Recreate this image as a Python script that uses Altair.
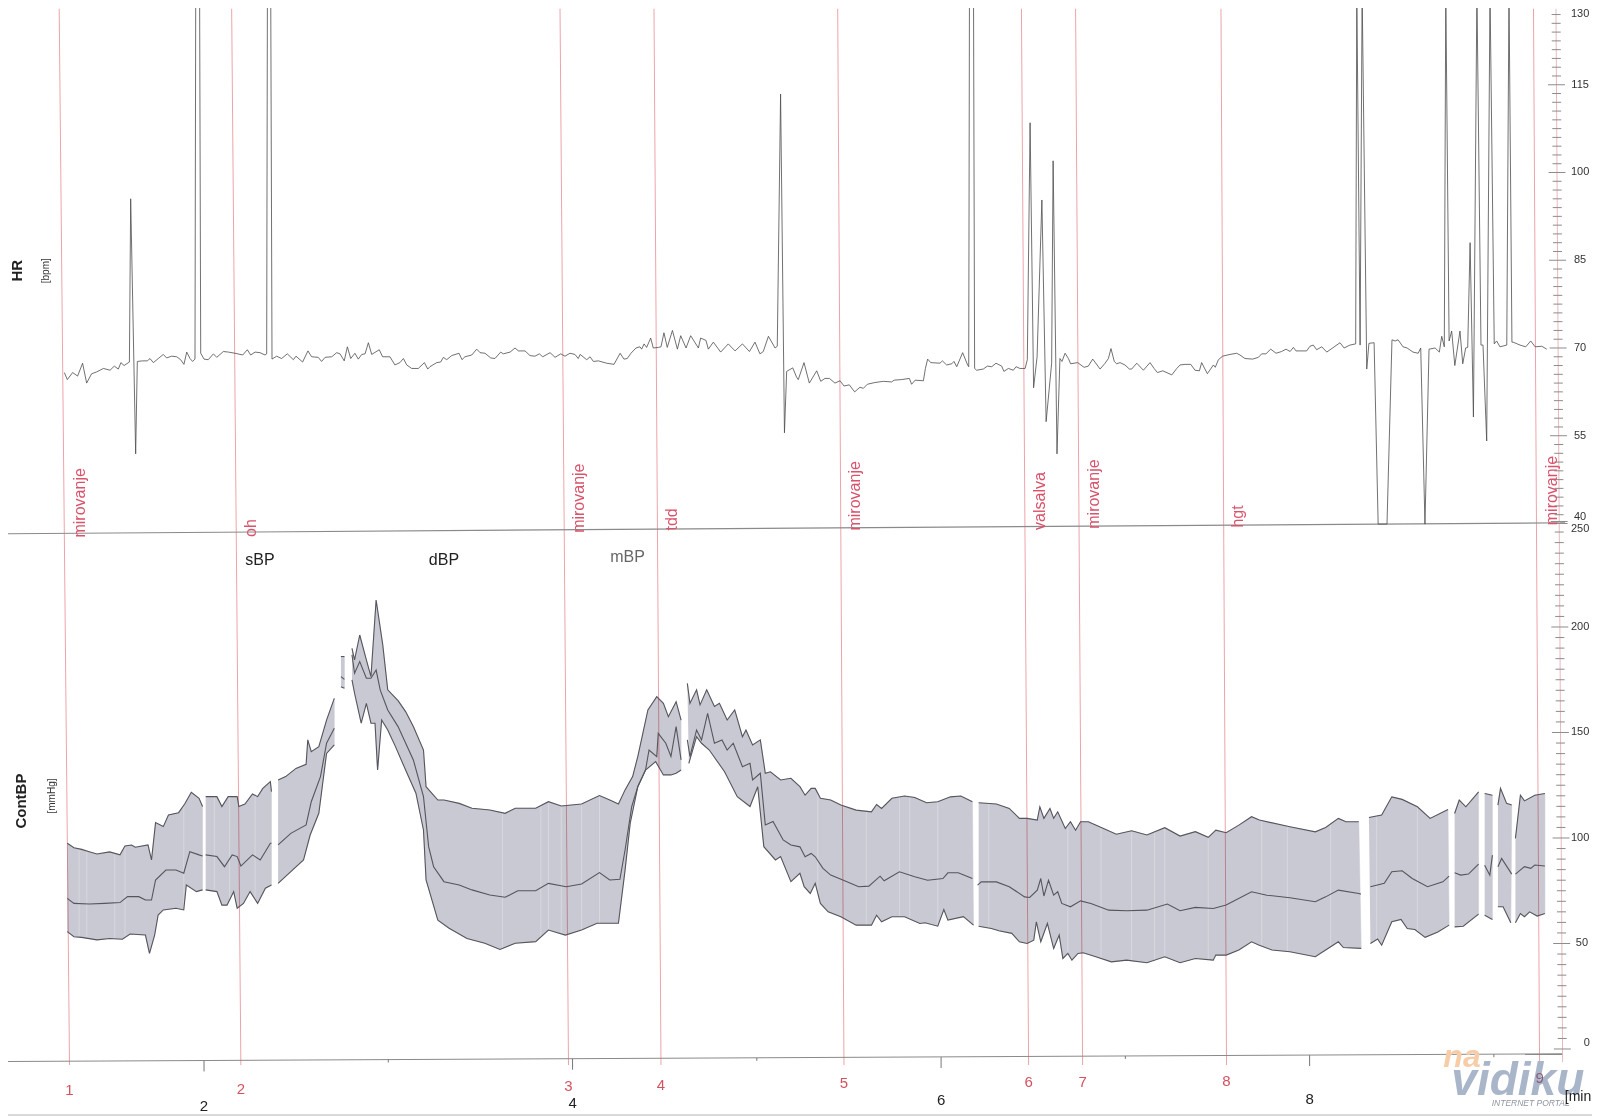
import altair as alt
import numpy as np
import pandas as pd

# ---- HR [bpm] ----
HR_T = [1.242,1.258,1.287,1.314,1.341,1.363,1.390,1.417,1.454,1.490,1.513,1.535,1.549,1.566,1.595,1.602,1.629,1.638,
1.667,1.692,1.707,1.725,1.752,1.779,1.797,1.824,1.852,1.873,1.891,1.906,1.924,1.938,1.951,1.955,1.976,1.982,
2.000,2.023,2.051,2.069,2.105,2.132,2.168,2.210,2.235,2.253,2.277,2.304,2.331,2.340,2.344,2.362,2.369,
2.394,2.421,2.452,2.485,2.499,2.535,2.564,2.584,2.620,2.638,2.657,2.693,2.720,2.738,2.761,2.778,2.796,2.819,2.837,2.856,2.874,2.892,2.910,2.951,2.969,3.009,3.036,3.063,3.082,3.100,3.127,3.163,3.196,3.214,
3.226,3.263,3.284,3.299,3.317,3.344,3.384,3.400,3.416,3.453,3.480,3.498,3.525,3.556,3.579,3.610,3.624,3.661,3.688,3.706,3.742,3.769,3.796,3.820,3.838,3.878,3.905,3.936,3.959,3.986,4.013,4.031,4.041,4.077,4.095,4.113,4.140,4.185,4.225,4.258,4.279,4.297,4.317,4.344,4.366,4.375,4.388,4.402,4.424,4.438,4.466,4.480,4.496,4.514,4.542,4.569,4.587,4.616,4.641,4.683,4.695,4.724,4.737,4.764,4.804,4.845,4.882,4.922,4.960,4.990,5.017,5.035,5.063,5.099,5.111,5.129,5.150,
5.162,5.195,5.216,5.225,5.256,5.285,5.325,5.347,5.370,5.394,5.424,5.452,5.473,5.502,5.531,5.560,5.578,5.600,5.641,5.687,5.732,5.745,5.786,5.828,5.840,5.859,5.904,5.915,5.927,5.944,5.994,6.007,6.030,6.058,6.070,6.085,6.117,6.144,6.150,6.154,6.176,6.182,6.193,6.229,6.251,6.275,6.298,6.329,6.341,6.365,6.392,6.407,6.428,6.456,6.468,6.483,6.502,6.521,6.547,6.570,6.600,6.608,6.629,
6.645,6.656,6.673,6.691,6.703,6.741,6.776,6.799,6.823,6.863,6.890,6.908,6.922,6.940,6.953,6.971,6.998,7.022,7.034,7.062,7.098,7.134,
7.156,7.174,7.203,7.252,7.279,7.297,7.324,7.355,7.378,7.402,7.414,7.445,7.478,7.488,7.505,7.528,7.568,7.604,7.622,7.649,7.691,7.722,7.740,7.763,7.789,7.818,7.848,7.872,7.894,7.912,7.926,7.984,8.002,8.020,8.038,8.066,8.093,8.165,8.187,8.219,8.250,8.256,8.274,8.285,8.310,8.322,8.350,8.372,8.420,8.447,
8.464,8.480,8.507,8.529,8.561,8.589,8.603,8.626,8.648,8.681,8.704,8.717,8.731,8.739,8.757,8.771,8.788,8.816,8.831,8.847,8.858,8.871,8.889,8.908,8.930,8.941,8.961,8.979,9.002,9.015,9.033,9.070,9.082,9.098,9.104,9.142,9.173,9.200,9.224,9.260,9.287]
HR_V = [65.8,64.6,65.8,65.2,67.4,64.0,65.6,65.9,66.5,66.2,66.9,66.4,67.5,67.0,67.6,95.5,51.9,67.7,
67.8,67.8,68.2,67.5,68.2,68.9,68.3,68.6,68.5,68.0,67.2,69.3,68.2,67.7,68.1,131,131,69.1,
68.1,68.0,69.0,68.4,69.4,69.3,69.1,68.8,69.7,68.8,69.3,69.2,68.8,69.0,131,131,68.1,
68.6,68.2,69.0,68.0,68.6,67.6,69.5,68.5,68.4,67.7,68.4,68.5,69.2,69.0,67.8,70.2,68.2,69.1,68.1,68.9,69.0,70.9,68.9,69.7,68.5,68.5,67.1,67.5,68.2,67.1,66.5,66.5,67.5,66.4,
66.8,67.5,67.6,68.4,68.0,68.7,69.1,68.0,68.5,68.8,69.8,69.2,69.1,68.3,68.2,69.3,69.0,69.3,70.0,69.5,69.5,68.7,68.6,69.0,68.5,69.2,68.4,69.0,68.6,69.1,68.9,68.2,68.9,68.0,68.5,67.7,67.8,67.4,67.2,69.1,68.1,68.2,69.1,70.0,70.2,69.8,70.7,70.1,71.7,70.0,70.1,70.2,72.6,70.1,73.0,69.8,72.1,70.0,72.1,70.0,71.7,71.3,69.8,71.0,69.3,70.7,69.5,70.7,69.4,71.0,69.0,69.4,72.0,70.0,70.3,113.4,55.5,
66.0,66.6,65.0,64.6,67.5,64.0,66.1,64.3,64.8,64.8,64.0,64.4,63.5,63.7,62.5,63.3,63.1,63.8,64.1,64.3,64.2,64.5,64.6,64.8,63.8,64.5,64.4,66.5,68.1,67.5,67.4,67.8,67.1,67.3,67.7,66.8,69.2,67.1,66.8,131,131,66.5,66.2,66.4,66.9,66.8,67.4,66.9,66.0,66.5,66.2,66.8,66.5,66.5,68.0,108.5,63.2,68.5,95.3,57.4,67.4,102.0,51.9,
68.2,67.7,69.1,68.2,67.3,67.5,66.7,66.9,68.1,66.4,67.4,68.2,69.9,67.7,67.3,67.5,67.1,66.4,66.4,67.4,66.2,67.5,
66.5,65.8,66.1,65.4,66.5,67.1,67.2,67.2,66.2,66.1,67.5,65.6,67.1,66.7,68.0,68.6,68.9,69.1,68.8,68.2,68.1,68.4,69.0,69.0,69.8,69.1,69.4,69.8,69.4,70.1,69.5,69.5,70.3,70.5,69.7,70.2,69.3,70.9,70.0,70.5,70.7,131,70.5,131,66.4,70.8,70.9,39.9,39.9,71.4,
71.2,71.4,70.2,70.0,69.3,69.1,70.0,39.9,69.8,70.0,69.3,72.0,70.2,131,71.2,72.9,67.0,72.9,67.3,70.0,70.1,88.0,58.2,131,70.5,70.5,54.1,131,70.7,71.2,70.2,70.5,131,71.0,71.0,70.5,70.2,71.2,70.2,70.3,69.8]

# ---- ContBP [mmHg]: systolic, mean, diastolic traces ----
SYS_T = [1.258,1.294,1.336,1.377,1.419,1.488,1.544,1.571,1.607,1.627,1.696,1.715,1.737,1.779,1.807,1.862,1.895,1.931,1.973,1.992,2.009,2.070,2.097,2.131,2.180,2.189,2.222,2.263,2.291,2.319,2.360,2.366,2.402,2.443,2.499,2.554,2.563,2.582,2.623,2.665,2.707,2.743,2.762,2.803,2.817,2.845,2.881,2.906,2.934,2.970,2.997,3.053,3.094,3.136,3.191,3.205,3.269,3.302,3.385,3.454,3.551,3.634,3.689,3.800,3.869,3.939,4.049,4.146,4.202,4.249,4.285,4.326,4.354,4.409,4.457,4.493,4.520,4.562,4.589,4.623,4.637,4.673,4.692,4.728,4.770,4.797,4.839,4.880,4.922,4.941,4.977,5.019,5.046,5.074,5.129,5.185,5.234,
5.262,5.295,5.317,5.345,5.401,5.456,5.539,5.622,5.650,5.677,5.733,5.802,5.857,5.921,5.982,6.051,6.107,6.170,6.204,6.300,6.370,6.425,6.467,6.522,6.536,6.558,6.591,6.611,6.633,6.674,6.702,6.730,6.757,6.799,6.854,6.951,7.034,7.117,7.214,7.297,7.380,7.450,7.491,7.547,7.616,7.685,7.727,7.893,8.031,8.087,8.156,8.197,8.267,8.322,8.391,8.446,8.502,8.585,8.654,8.751,8.787,8.812,8.848,8.917,8.950,8.992,9.022,9.036,9.069,9.097,9.117,9.144,9.166,9.222,9.277]
SYS_V = [97.5,95.4,94.6,93.5,92.4,93.4,92.0,96.2,96.7,95.6,96.7,89.6,107.3,105.4,110.9,112.0,116.1,121.7,118.8,114.9,119.6,119.6,114.9,119.6,119.6,114.9,116.1,120.9,119.6,123.5,126.7,122.0,127.5,129.1,133.0,134.9,146.5,140.9,143.3,155.9,166.2,186.0,186.0,189.9,184.4,196.2,184.4,176.5,212.8,191.5,170.2,165.1,159.9,152.8,141.7,124.3,118.0,118.0,116.4,114.1,113.3,111.7,114.1,114.1,117.2,115.2,116.1,120.1,118.0,116.1,122.8,129.1,138.6,160.7,167.0,163.8,157.5,164.6,155.9,173.3,163.8,170.2,163.1,170.2,162.3,163.8,155.9,160.7,148.0,151.2,144.1,146.5,130.7,131.4,127.5,128.3,124.3,
120.3,123.5,123.5,118.8,118.0,115.6,113.2,112.4,115.9,114.0,118.8,119.9,119.2,116.7,117.2,119.5,119.9,117.2,116.7,116.1,114.0,109.3,109.3,108.5,114.8,109.3,114.0,109.3,112.4,104.5,107.7,103.7,107.7,107.7,105.6,101.8,103.4,101.4,104.9,100.9,103.0,100.3,103.7,102.5,106.1,110.1,108.5,105.3,102.9,105.0,109.3,107.7,107.7,109.7,110.9,119.5,118.3,114.8,109.3,113.5,111.6,118.0,114.8,121.9,121.1,120.3,115.6,123.5,116.4,115.6,99.8,120.3,117.6,120.3,121.1]

MEAN_T = [1.258,1.294,1.377,1.460,1.544,1.585,1.646,1.682,1.715,1.737,1.793,1.848,1.890,1.923,1.973,1.992,2.009,2.070,2.111,2.153,2.180,2.200,2.263,2.305,2.360,2.366,2.402,2.471,2.554,2.582,2.632,2.665,2.707,2.743,2.762,2.803,2.817,2.845,2.881,2.906,2.934,2.956,2.997,3.053,3.136,3.191,3.219,3.246,3.302,3.385,3.454,3.551,3.634,3.703,3.800,3.869,3.966,4.049,4.146,4.202,4.257,4.285,4.321,4.354,4.396,4.415,4.457,4.465,4.506,4.534,4.562,4.589,4.623,4.637,4.673,4.700,4.733,4.770,4.811,4.839,4.872,4.922,4.963,4.977,5.019,5.046,5.088,5.143,5.185,5.234,
5.262,5.295,5.317,5.359,5.401,5.470,5.553,5.608,5.669,5.691,5.774,5.857,5.927,6.010,6.037,6.093,6.170,6.198,6.218,6.300,6.370,6.453,6.481,6.522,6.541,6.558,6.583,6.611,6.633,6.655,6.702,6.757,6.813,6.910,7.007,7.117,7.228,7.297,7.380,7.477,7.547,7.685,7.768,7.893,8.031,8.087,8.156,8.267,8.278,8.330,8.405,8.446,8.502,8.557,8.640,8.723,8.757,8.787,8.820,8.862,8.917,8.950,8.978,8.992,9.022,9.042,9.097,9.117,9.166,9.200,9.222,9.277]
MEAN_V = [71.4,69.0,68.7,69.0,69.4,72.2,72.2,70.6,70.6,80.1,84.8,84.8,83.3,93.5,92.0,91.5,92.0,91.2,86.4,92.0,91.2,86.7,92.0,89.6,97.5,97.5,96.7,102.2,106.2,117.2,129.1,144.9,152.0,176.5,175.2,186.8,178.1,183.6,175.7,175.7,179.6,170.2,160.7,152.8,137.0,119.6,95.9,86.4,79.3,77.7,75.4,73.0,71.9,75.0,75.0,78.5,76.9,78.2,83.6,80.1,80.4,94.3,114.9,124.3,132.2,141.7,138.6,149.6,144.9,138.6,152.8,137.0,146.5,138.6,151.2,146.5,159.1,144.9,146.5,141.7,144.9,133.8,135.4,127.5,130.7,106.2,107.8,99.1,96.7,95.8,
91.1,92.7,91.1,85.6,82.4,80.0,76.9,77.2,81.9,79.7,84.0,81.6,80.0,80.8,83.5,83.5,80.8,77.7,79.2,79.2,76.9,72.1,71.8,75.3,80.8,72.5,80.0,72.9,74.5,69.0,67.4,70.2,69.0,65.8,65.5,65.8,68.7,65.5,67.1,66.6,68.2,74.5,72.9,71.7,69.8,72.1,75.3,73.7,73.4,76.9,78.5,84.0,84.5,80.8,76.9,79.2,81.9,83.5,82.4,82.9,87.6,87.1,82.4,91.9,86.4,90.3,82.9,82.9,86.4,85.6,87.2,86.7]

DIA_T = [1.258,1.294,1.336,1.419,1.488,1.557,1.599,1.682,1.704,1.732,1.751,1.779,1.848,1.890,1.904,1.959,1.992,2.009,2.070,2.097,2.125,2.161,2.180,2.214,2.250,2.291,2.333,2.366,2.402,2.471,2.540,2.576,2.623,2.665,2.707,2.743,2.762,2.803,2.817,2.853,2.881,2.906,2.928,2.942,2.964,2.997,3.039,3.094,3.150,3.191,3.205,3.269,3.330,3.427,3.524,3.606,3.689,3.800,3.869,3.961,4.049,4.133,4.188,4.249,4.285,4.313,4.354,4.396,4.451,4.493,4.534,4.562,4.589,4.631,4.673,4.700,4.742,4.825,4.894,4.963,5.005,5.038,5.101,5.129,5.185,5.234,
5.257,5.290,5.317,5.345,5.387,5.456,5.539,5.622,5.650,5.677,5.733,5.802,5.885,5.913,5.982,6.015,6.037,6.121,6.176,6.204,6.273,6.314,6.384,6.425,6.467,6.503,6.517,6.541,6.577,6.611,6.641,6.661,6.688,6.710,6.743,6.771,6.840,6.924,7.007,7.117,7.214,7.297,7.380,7.477,7.491,7.547,7.616,7.685,7.727,7.796,7.893,8.031,8.087,8.156,8.183,8.280,8.330,8.369,8.391,8.446,8.496,8.530,8.571,8.627,8.696,8.757,8.787,8.834,8.917,8.950,8.992,9.022,9.050,9.092,9.117,9.144,9.166,9.194,9.235,9.277]
DIA_V = [55.6,53.2,52.9,51.7,52.4,52.0,54.5,54.0,45.3,54.0,63.5,65.9,66.7,65.9,77.7,74.6,75.4,75.4,74.6,68.2,68.2,74.6,66.7,69.0,74.6,69.0,76.2,77.7,78.5,84.1,89.6,101.4,111.7,140.1,144.1,171.7,171.0,174.9,168.6,154.4,163.8,154.4,154.4,132.2,155.9,151.2,143.3,132.2,121.2,103.8,80.1,61.1,57.2,52.4,50.1,47.2,50.1,50.9,56.4,54.0,56.4,59.6,59.6,59.6,84.8,107.0,124.3,132.2,136.2,129.9,129.9,130.7,132.2,135.4,148.0,144.9,141.7,131.4,119.6,114.9,124.3,95.9,89.6,91.2,79.3,83.3,
76.9,73.7,78.5,69.0,65.0,62.7,58.7,58.7,63.4,60.3,62.7,62.7,59.5,59.8,58.2,66.1,61.1,62.7,58.7,58.2,57.1,56.0,54.8,50.8,50.0,51.6,60.3,50.8,59.5,47.6,54.0,42.9,45.3,42.1,45.3,45.6,43.7,41.3,42.1,40.9,43.7,40.9,42.9,42.1,44.5,44.5,46.9,50.8,49.2,46.9,46.1,43.7,46.9,50.8,48.1,47.7,50.0,52.1,49.2,60.3,61.4,57.1,56.6,52.9,55.5,58.7,57.9,58.2,63.9,63.4,61.4,67.4,67.4,59.8,59.8,64.2,62.7,65.0,63.0,64.2]

# times (min) where beats are missing in the BP record
GAP_T = [2.000,2.384,2.725,2.782,4.606,6.187,8.301,8.770,8.937,9.007,9.107]
# paler beats inside the band
PALE_T = [1.322,1.364,1.516,1.571,1.890,2.056,2.139,2.277,3.620,3.828,3.870,3.939,4.049,4.146,
          5.331,5.594,5.774,5.830,5.982,6.259,6.688,6.868,7.034,7.159,7.214,7.450,7.740,7.879,8.114,8.364,8.585]

# ---- event markers ----
EVENT_NUM = ["1","2","3","4","5","6","7","8","9"]
EVENT_TOP = [1.214,2.150,3.932,4.442,5.439,6.436,6.730,7.519,9.215]
EVENT_BOT = [1.270,2.200,3.978,4.480,5.473,6.475,6.768,7.549,9.248]
EVENT_NUM_BP = [-19.4,-19.0,-17.5,-17.1,-16.1,-15.6,-15.6,-15.2,-13.7]
EVENT_NAME = ["mirovanje","oh","mirovanje","tdd","mirovanje","valsalva","mirovanje","hgt","mirovanje"]
EVENT_NAME_T = [1.325,2.255,4.033,4.542,5.533,6.537,6.830,7.610,9.315]
EVENT_NAME_HR = [37.6,37.7,38.4,38.8,38.8,38.9,39.1,39.3,39.7]

MIN_LABELS = ["2","4","6","8"]
MIN_T = [2,4,6,8]
MIN_LABEL_BP = [-27.0,-25.6,-24.2,-23.7]
MIN_TICK_BP = [-5.45,-4.6,-3.8,-2.9]
MIN_MINOR_T = [3,5,7,9]
MIN_MINOR_BP = [-5.0,-4.2,-3.3,-2.5]

HR_TICKS = list(np.arange(40, 130.1, 1.5))
BP_TICKS = list(range(0, 251, 5))
HR_LABELS = ["130","115","100","85","70","55","40"]
HR_LABEL_V = [127.1,115,100,85,70,55,41.1]
BP_LABELS = ["250","200","150","100","50","0"]
BP_LABEL_V = [246.6,200,150,100,50,2.8]
BP_LABEL_T = [9.468,9.468,9.468,9.468,9.478,9.505]

x_scale = alt.Scale(domain=[0.9362, 9.5325], nice=False, zero=False)
hr_scale = alt.Scale(domain=[-61.97, 128.12], nice=False, zero=False)
bp_scale = alt.Scale(domain=[-33.65, 493.36], nice=False, zero=False)
FONT = "Liberation Sans"


def X(f="t"):
    return alt.X(f"{f}:Q", scale=x_scale, axis=None, title=None)


def YH(f="v"):
    return alt.Y(f"{f}:Q", scale=hr_scale, axis=None, title=None)


def YB(f="v"):
    return alt.Y(f"{f}:Q", scale=bp_scale, axis=None, title=None)


def seg_of(ts):
    return np.searchsorted(GAP_T, ts)


def text(rows, y_fn, **kw):
    kw.setdefault("font", FONT)
    return alt.Chart(pd.DataFrame(rows)).mark_text(**kw).encode(x=X(), y=y_fn(), text="s:N")


def slanted(rows, y_fn, **kw):
    return alt.Chart(pd.DataFrame(rows)).mark_rule(**kw).encode(
        x=X(), x2="t2:Q", y=y_fn(), y2="v2:Q")


def trace(ts, vs, **kw):
    d = pd.DataFrame({"t": ts, "v": vs, "seg": seg_of(ts)})
    return alt.Chart(d).mark_line(**kw).encode(x=X(), y=YB(), detail="seg:N", order="t:Q")


# band polygons: systolic forward, diastolic back, one per unbroken stretch
rows = []
sys_seg, dia_seg = seg_of(SYS_T), seg_of(DIA_T)
for s in sorted(set(sys_seg) | set(dia_seg)):
    up = [(t, v) for t, v, g in zip(SYS_T, SYS_V, sys_seg) if g == s]
    lo = [(t, v) for t, v, g in zip(DIA_T, DIA_V, dia_seg) if g == s]
    for p in up + lo[::-1]:
        rows.append({"t": p[0], "v": p[1], "seg": int(s), "i": len(rows)})
band = alt.Chart(pd.DataFrame(rows)).mark_line(
    fill="#c9c9d3", stroke="#c9c9d3", strokeWidth=0.5, interpolate="linear"
).encode(x=X(), y=YB(), detail="seg:N", order="i:Q")

pale = alt.Chart(pd.DataFrame({"t": PALE_T, "a": [35.0] * len(PALE_T), "b": [125.0] * len(PALE_T)})).mark_rule(
    color="#ffffff", opacity=0.28, strokeWidth=1
).encode(x=X(), y=YB("a"), y2="b:Q")

events = slanted(
    [{"t": a, "t2": b, "v": 493.0, "v2": -7.6} for a, b in zip(EVENT_TOP, EVENT_BOT)], YB,
    color="#eda3aa", strokeWidth=1, blend="multiply")

divider = slanted([{"t": 0.9362, "t2": 9.386, "v": 244.2, "v2": 249.4}], YB, color="#8a8a8a", strokeWidth=1.2)
baseline = slanted([{"t": 0.9362, "t2": 9.375, "v": -5.9, "v2": -2.3}], YB, color="#8a8a8a", strokeWidth=1.1)
page_edge = slanted([{"t": 0.9362, "t2": 9.5325, "v": -31.3, "v2": -31.3}], YB, color="#b5b5b5", strokeWidth=1)
spine = slanted([{"t": 9.337, "t2": 9.373, "v": 493.0, "v2": -6.2}], YB, color="#e9b9bc", strokeWidth=1)


def axis_t(page_y):
    return 0.8928 + 0.005427 * (1556 + 0.006 * page_y)


hr_tick_rows = []
for i, v in enumerate(HR_TICKS):
    c = axis_t(348 + (70 - v) * 5.85)
    h = 0.046 if i % 10 == 0 else 0.0244
    hr_tick_rows.append({"t": c - h, "t2": c + h, "v": float(v)})
hr_ticks = alt.Chart(pd.DataFrame(hr_tick_rows)).mark_rule(color="#8c8c8c", strokeWidth=1).encode(
    x=X(), x2="t2:Q", y=YH())

bp_tick_rows = []
for i, v in enumerate(BP_TICKS):
    c = axis_t(1049 - v * 2.11)
    h = 0.046 if i % 10 == 0 else 0.0244
    bp_tick_rows.append({"t": c - h, "t2": c + h, "v": float(v)})
bp_ticks = alt.Chart(pd.DataFrame(bp_tick_rows)).mark_rule(color="#8c8c8c", strokeWidth=1).encode(
    x=X(), x2="t2:Q", y=YB())

min_ticks = alt.Chart(pd.DataFrame({"t": MIN_T, "v": MIN_TICK_BP, "v2": [b - 5.2 for b in MIN_TICK_BP]})).mark_rule(
    color="#777777", strokeWidth=1).encode(x=X(), y=YB(), y2="v2:Q")
min_minor = alt.Chart(pd.DataFrame({"t": MIN_MINOR_T, "v": MIN_MINOR_BP, "v2": [b - 1.4 for b in MIN_MINOR_BP]})).mark_rule(
    color="#777777", strokeWidth=1).encode(x=X(), y=YB(), y2="v2:Q")

hr_line = alt.Chart(pd.DataFrame({"t": HR_T, "v": HR_V})).mark_line(
    color="#4d4d4d", strokeWidth=0.8).encode(x=X(), y=YH(), order="t:Q")

bp_layers = [
    band, pale, events, divider, baseline, page_edge, spine, bp_ticks, min_ticks, min_minor,
    trace(SYS_T, SYS_V, color="#55555c", strokeWidth=1.1),
    trace(MEAN_T, MEAN_V, color="#55555c", strokeWidth=1.1),
    trace(DIA_T, DIA_V, color="#55555c", strokeWidth=1.1),
    text([{"t": a, "v": b, "s": s} for a, b, s in zip(EVENT_BOT, EVENT_NUM_BP, EVENT_NUM) if s != "9"], YB,
         color="#d4525f", fontSize=15, align="center", baseline="middle"),
    text([{"t": a, "v": b, "s": s} for a, b, s in zip(MIN_T, MIN_LABEL_BP, MIN_LABELS)], YB,
         color="#222222", fontSize=15, align="center", baseline="middle"),
    text([{"t": 8.827, "v": -3.8, "s": "na"}], YB, color="#f7cda8", fontSize=32, fontWeight="bold", fontStyle="italic",
         align="center", baseline="middle"),
    text([{"t": 9.130, "v": -21.8, "s": "vidiku"}], YB, color="#a9b6ca", fontSize=46, fontWeight="bold", fontStyle="italic",
         align="center", baseline="alphabetic"),
    text([{"t": 9.20, "v": -25.6, "s": "INTERNET PORTAL"}], YB, color="#8f94a0", fontSize=8.5, fontStyle="italic",
         align="center", baseline="middle"),
    text([{"t": EVENT_BOT[8], "v": EVENT_NUM_BP[8], "s": "9"}], YB, color="#8a5a78", fontSize=15,
         align="center", baseline="middle"),
    text([{"t": 9.385, "v": -22.7, "s": "[min"}], YB, color="#222222", fontSize=14, align="left", baseline="middle"),
    text([{"t": 1.009, "v": 117.5, "s": "ContBP"}], YB, color="#222222", fontSize=15, fontWeight="bold", angle=270,
         align="center", baseline="middle"),
    text([{"t": 1.175, "v": 119.9, "s": "[mmHg]"}], YB, color="#333333", fontSize=10, angle=270,
         align="center", baseline="middle"),
    text([{"t": 2.304, "v": 231.8, "s": "sBP"}, {"t": 3.302, "v": 231.8, "s": "dBP"}], YB,
         color="#222222", fontSize=16, align="center", baseline="middle"),
    text([{"t": 4.298, "v": 233.2, "s": "mBP"}], YB, color="#666666", fontSize=16, align="center", baseline="middle"),
    text([{"t": a, "v": b, "s": s} for a, b, s in zip(BP_LABEL_T, BP_LABEL_V, BP_LABELS)], YB,
         color="#333333", fontSize=11, align="center", baseline="middle"),
]

hr_layers = [
    hr_ticks,
    hr_line,
    text([{"t": a, "v": b, "s": s} for a, b, s in zip(EVENT_NAME_T, EVENT_NAME_HR, EVENT_NAME)], YH,
         color="#d9536b", fontSize=16, angle=270, align="left", baseline="middle"),
    text([{"t": 0.985, "v": 83.2, "s": "HR"}], YH, color="#222222", fontSize=15, fontWeight="bold", angle=270,
         align="center", baseline="middle"),
    text([{"t": 1.143, "v": 83.2, "s": "[bpm]"}], YH, color="#333333", fontSize=10, angle=270,
         align="center", baseline="middle"),
    text([{"t": 9.468, "v": b, "s": s} for b, s in zip(HR_LABEL_V, HR_LABELS)], YH,
         color="#333333", fontSize=11, align="center", baseline="middle"),
]

chart = alt.layer(alt.layer(*bp_layers), alt.layer(*hr_layers)).resolve_scale(y="independent").properties(
    width=1584, height=1112, padding=0, autosize=alt.AutoSizeParams(type="none", contains="content"),
    background="#ffffff",
).configure_view(strokeWidth=0)

chart.save("out.html", embed_options={"renderer": "svg", "actions": False})
